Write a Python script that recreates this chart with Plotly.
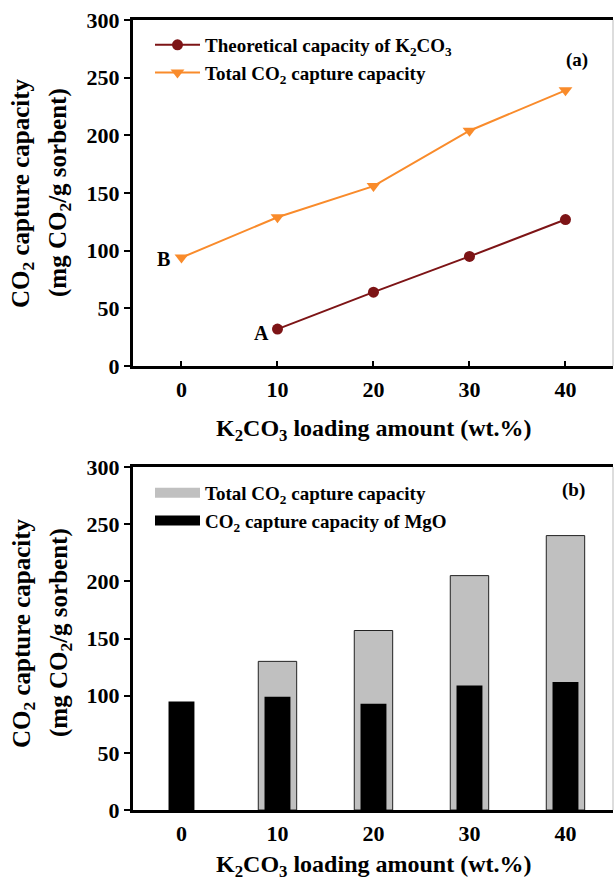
import plotly.graph_objects as go

# ---- data ----
loading = [0, 10, 20, 30, 40]
theo_x = [10, 20, 30, 40]
theo_cap = [32, 64, 95, 127]
total_cap = [94, 129, 156, 204, 239]

bar_total = [None, 130, 157, 205, 240]
bar_mgo = [95, 99, 93, 109, 112]

x_ticks = [0, 10, 20, 30, 40]
y_ticks = [0, 50, 100, 150, 200, 250, 300]

FONT = "Liberation Serif"
DARKRED = "#7d1416"
ORANGE = "#f98b2b"
GRAY = "#c0c0c0"

W, H = 614, 885
L = 133
PW = W - L - 1

def px(xpix):
    return (xpix - L) / PW

def py(ypix):
    return 1 - ypix / H

fig = go.Figure()

# top panel
fig.add_trace(go.Scatter(
    x=theo_x, y=theo_cap, mode="lines+markers",
    name="Theoretical capacity of K<sub>2</sub>CO<sub>3</sub>",
    line=dict(color=DARKRED, width=2),
    marker=dict(symbol="circle", size=11, color=DARKRED),
    xaxis="x", yaxis="y", legend="legend", legendgroup="a1"))
fig.add_trace(go.Scatter(
    x=loading, y=total_cap, mode="lines+markers",
    name="Total CO<sub>2</sub> capture capacity",
    line=dict(color=ORANGE, width=2),
    marker=dict(symbol="triangle-down", size=12, color=ORANGE),
    xaxis="x", yaxis="y", legend="legend", legendgroup="a2"))

# bottom panel
fig.add_trace(go.Bar(
    x=loading, y=bar_total, width=4.0,
    marker=dict(color=GRAY, line=dict(color="#222222", width=1)),
    showlegend=False, xaxis="x2", yaxis="y2"))
fig.add_trace(go.Bar(
    x=loading, y=bar_mgo, width=2.7,
    marker=dict(color="#000000", line=dict(width=0)),
    showlegend=False, xaxis="x2", yaxis="y2"))

# legend entries for bars
fig.add_trace(go.Scatter(
    x=[None], y=[None], mode="lines",
    name="Total CO<sub>2</sub> capture capacity",
    line=dict(color=GRAY, width=10),
    xaxis="x2", yaxis="y2", legend="legend2", legendgroup="b1"))
fig.add_trace(go.Scatter(
    x=[None], y=[None], mode="lines",
    name="CO<sub>2</sub> capture capacity of MgO",
    line=dict(color="#000000", width=10),
    xaxis="x2", yaxis="y2", legend="legend2", legendgroup="b2"))

xax = dict(range=[-5.05, 44.95], tickvals=x_ticks, ticks="inside", ticklen=5,
           tickwidth=2, tickcolor="black", showline=True, linewidth=3,
           linecolor="black", mirror=True, showgrid=False, zeroline=False,
           ticklabelstandoff=2, automargin=False,
           tickfont=dict(family=FONT, size=22, color="black", weight="bold"))
yax = dict(range=[0, 300], tickvals=y_ticks, ticks="outside", ticklen=6,
           tickwidth=2, tickcolor="black", showline=True, linewidth=3,
           linecolor="black", showgrid=False, zeroline=False, automargin=False,
           tickfont=dict(family=FONT, size=22, color="black", weight="bold"))

legfont = dict(family=FONT, size=19, color="black", weight="bold")

fig.update_layout(
    width=W, height=H,
    margin=dict(l=L, r=1, t=0, b=0, autoexpand=False),
    paper_bgcolor="white", plot_bgcolor="white",
    font=dict(family=FONT, color="black", weight="bold"),
    barmode="overlay",
    xaxis=dict(xax, domain=[0, 1], anchor="y"),
    yaxis=dict(yax, domain=[py(366), py(20)], anchor="x"),
    xaxis2=dict(xax, domain=[0, 1], anchor="y2"),
    yaxis2=dict(yax, domain=[py(810), py(467)], anchor="x2"),
    legend=dict(x=px(150), y=py(26), xanchor="left", yanchor="top",
                font=legfont, bgcolor="rgba(0,0,0,0)", tracegroupgap=0,
                itemwidth=45),
    legend2=dict(x=px(150), y=py(474), xanchor="left", yanchor="top",
                 font=legfont, bgcolor="rgba(0,0,0,0)", tracegroupgap=0,
                 itemwidth=45),
    showlegend=True,
)

ann = []
big = dict(family=FONT, size=25, color="black", weight="bold")
xt = dict(family=FONT, size=24, color="black", weight="bold")
for yc in (py(193), py(633)):
    ann.append(dict(text="CO<sub>2</sub> capture capacity", x=px(23), y=yc,
                    xref="paper", yref="paper", textangle=-90, showarrow=False,
                    xanchor="center", yanchor="middle", font=big))
    ann.append(dict(text="(mg CO<sub>2</sub>/g sorbent)", x=px(60), y=yc,
                    xref="paper", yref="paper", textangle=-90, showarrow=False,
                    xanchor="center", yanchor="middle", font=big))
for yc in (py(430), py(866)):
    ann.append(dict(text="K<sub>2</sub>CO<sub>3</sub> loading amount (wt.%)",
                    x=px(373.5), y=yc, xref="paper", yref="paper",
                    showarrow=False, xanchor="center", yanchor="middle", font=xt))
ann.append(dict(text="(a)", x=px(590), y=py(47), xref="paper", yref="paper",
                showarrow=False, font=dict(family=FONT, size=19, color="black", weight="bold")))
ann.append(dict(text="(b)", x=px(587), y=py(490), xref="paper", yref="paper",
                showarrow=False, font=dict(family=FONT, size=19, color="black", weight="bold")))
ann.append(dict(text="A", x=theo_x[0], y=theo_cap[0], xref="x", yref="y",
                showarrow=False, xshift=-16, yshift=-4,
                font=dict(family=FONT, size=20, color="black", weight="bold")))
ann.append(dict(text="B", x=loading[0], y=total_cap[0], xref="x", yref="y",
                showarrow=False, xshift=-18, yshift=-1,
                font=dict(family=FONT, size=20, color="black", weight="bold")))
fig.update_layout(annotations=ann)

# thin right border
for xr, yr in (("x domain", "y domain"), ("x2 domain", "y2 domain")):
    fig.add_shape(type="line", x0=1, x1=1, y0=0, y1=1, xref=xr, yref=yr,
                  line=dict(color="#bbbbbb", width=1))

fig.write_html("out.html")
